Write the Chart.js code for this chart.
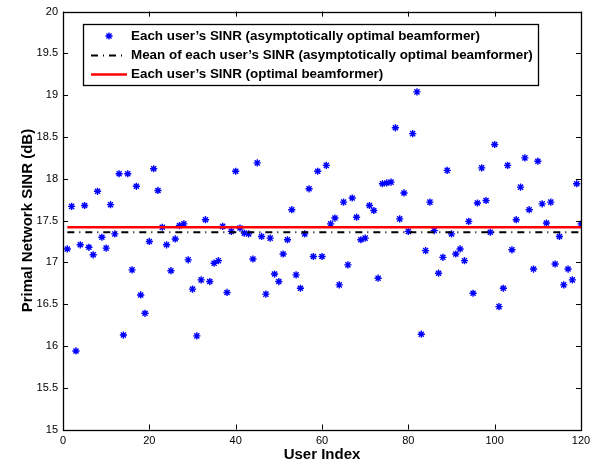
<!DOCTYPE html>
<html>
<head>
<meta charset="utf-8">
<script src="https://cdn.jsdelivr.net/npm/chart.js@4"></script>
<style>
  html, body { margin: 0; padding: 0; background: #fff; }
  canvas { display: block; }
</style>
</head>
<body>
<canvas id="sinrChart" width="607" height="466"></canvas>
<script>
"use strict";

// user index 1..120
const userIndex = Array.from({ length: 120 }, (_, i) => i + 1);

// each user's SINR (dB), asymptotically optimal beamformer
const sinrAsym = [
    17.16, 17.67, 15.94, 17.21, 17.68, 17.18, 17.09, 17.85, 17.30, 17.17,
    17.69, 17.34, 18.06, 16.13, 18.06, 16.91, 17.91, 16.61, 16.39, 17.25,
    18.12, 17.86, 17.42, 17.21, 16.90, 17.28, 17.44, 17.46, 17.03, 16.68,
    16.12, 16.79, 17.51, 16.77, 16.99, 17.02, 17.43, 16.64, 17.37, 18.09,
    17.41, 17.35, 17.34, 17.04, 18.19, 17.31, 16.62, 17.29, 16.86, 16.77,
    17.10, 17.27, 17.63, 16.85, 16.69, 17.34, 17.88, 17.07, 18.09, 17.07,
    18.16, 17.46, 17.53, 16.73, 17.72, 16.97, 17.77, 17.54, 17.27, 17.29,
    17.68, 17.62, 16.81, 17.94, 17.95, 17.96, 18.61, 17.52, 17.83, 17.37,
    18.54, 19.04, 16.14, 17.14, 17.72, 17.38, 16.87, 17.06, 18.10, 17.34,
    17.10, 17.16, 17.02, 17.49, 16.63, 17.71, 18.13, 17.74, 17.36, 18.41,
    16.47, 16.69, 18.16, 17.15, 17.51, 17.90, 18.25, 17.63, 16.92, 18.21,
    17.70, 17.47, 17.72, 16.98, 17.31, 16.73, 16.92, 16.79, 17.94, 17.46
];

// horizontal reference levels (dB)
const meanAsym = 17.36;
const sinrOpt = 17.42;

const xTicks = [0, 20, 40, 60, 80, 100, 120];
const yTicks = [15, 15.5, 16, 16.5, 17, 17.5, 18, 18.5, 19, 19.5, 20];

const legendLabels = [
    "Each user\u2019s SINR (asymptotically optimal beamformer)",
    "Mean of each user\u2019s SINR (asymptotically optimal beamformer)",
    "Each user\u2019s SINR (optimal beamformer)"
];

const FONT = "'Liberation Sans', Arial, Helvetica, sans-serif";
const BLUE = "#0000ff";
const DASH_DOT = [7, 5, 1, 5];
const STAR_R = 3.6;

const first = userIndex[0];
const last = userIndex[userIndex.length - 1];

// box, inward ticks on all four sides and the in-plot legend (MATLAB look)
const matlabFrame = {
    id: "matlabFrame",
    afterDatasetsDraw(chart) {
        const { ctx, chartArea: a, scales } = chart;
        ctx.save();
        ctx.strokeStyle = "#000";
        ctx.lineWidth = 1;
        ctx.beginPath();
        xTicks.forEach((t) => {
            const x = Math.round(scales.x.getPixelForValue(t)) + 0.5;
            ctx.moveTo(x, a.bottom); ctx.lineTo(x, a.bottom - 5);
            ctx.moveTo(x, a.top); ctx.lineTo(x, a.top + 5);
        });
        yTicks.forEach((t) => {
            const y = Math.round(scales.y.getPixelForValue(t)) + 0.5;
            ctx.moveTo(a.left, y); ctx.lineTo(a.left + 5, y);
            ctx.moveTo(a.right, y); ctx.lineTo(a.right - 5, y);
        });
        ctx.stroke();
        ctx.lineWidth = 1.3;
        ctx.strokeRect(Math.round(a.left) + 0.5, Math.round(a.top) + 0.5,
            Math.round(a.right - a.left), Math.round(a.bottom - a.top));

        // legend
        const lx = 83, ly = 24, lw = 455, lh = 61;
        ctx.fillStyle = "#fff";
        ctx.fillRect(lx, ly, lw, lh);
        ctx.lineWidth = 1.3;
        ctx.strokeRect(lx + 0.5, ly + 0.5, lw, lh);

        const rows = [36, 55.5, 74.5];
        const ds = chart.data.datasets;
        // row 1: star marker
        ctx.strokeStyle = BLUE;
        ctx.lineWidth = 1.4;
        const sx = 109, sy = rows[0], r = STAR_R;
        ctx.beginPath();
        ctx.moveTo(sx - r, sy); ctx.lineTo(sx + r, sy);
        ctx.moveTo(sx, sy - r); ctx.lineTo(sx, sy + r);
        const d = r * Math.SQRT1_2;
        ctx.moveTo(sx - d, sy - d); ctx.lineTo(sx + d, sy + d);
        ctx.moveTo(sx - d, sy + d); ctx.lineTo(sx + d, sy - d);
        ctx.stroke();
        // row 2: dash-dot line
        ctx.strokeStyle = ds[1].borderColor;
        ctx.lineWidth = ds[1].borderWidth;
        ctx.setLineDash(DASH_DOT);
        ctx.beginPath();
        ctx.moveTo(91, rows[1]); ctx.lineTo(127, rows[1]);
        ctx.stroke();
        ctx.setLineDash([]);
        // row 3: red line
        ctx.strokeStyle = ds[2].borderColor;
        ctx.lineWidth = ds[2].borderWidth;
        ctx.beginPath();
        ctx.moveTo(91, rows[2]); ctx.lineTo(127, rows[2]);
        ctx.stroke();

        ctx.fillStyle = "#000";
        ctx.font = "bold 13.4px " + FONT;
        ctx.textBaseline = "middle";
        ctx.textAlign = "left";
        legendLabels.forEach((t, i) => ctx.fillText(t, 131, rows[i]));
        ctx.restore();
    }
};

new Chart(document.getElementById("sinrChart").getContext("2d"), {
    type: "scatter",
    data: {
        datasets: [
            {
                label: legendLabels[0],
                data: userIndex.map((u, i) => ({ x: u, y: sinrAsym[i] })),
                pointStyle: "star",
                pointRadius: STAR_R,
                borderColor: BLUE,
                backgroundColor: BLUE,
                pointBorderWidth: 1.4,
                showLine: false,
                order: 3
            },
            {
                label: legendLabels[1],
                type: "line",
                data: [{ x: first, y: meanAsym }, { x: last, y: meanAsym }],
                borderColor: "#000",
                borderWidth: 2,
                borderDash: DASH_DOT,
                pointRadius: 0,
                order: 2
            },
            {
                label: legendLabels[2],
                type: "line",
                data: [{ x: first, y: sinrOpt }, { x: last, y: sinrOpt }],
                borderColor: "#ff0000",
                borderWidth: 2.5,
                pointRadius: 0,
                order: 1
            }
        ]
    },
    options: {
        responsive: false,
        animation: false,
        events: [],
        layout: { padding: { left: 0, right: 26, top: 10, bottom: 0 } },
        plugins: { legend: { display: false }, tooltip: { enabled: false } },
        scales: {
            x: {
                type: "linear",
                min: 0,
                max: 120,
                afterBuildTicks: (s) => { s.ticks = xTicks.map((v) => ({ value: v })); },
                afterFit: (s) => { s.height = 36.5; },
                grid: { display: false, drawTicks: false },
                border: { display: false },
                ticks: { color: "#000", padding: 5, font: { family: FONT, size: 11 }, maxRotation: 0 },
                title: {
                    display: true,
                    text: "User Index",
                    color: "#000",
                    font: { family: FONT, size: 15, weight: "bold" },
                    padding: { top: 0, bottom: 2 }
                }
            },
            y: {
                min: 15,
                max: 20,
                afterBuildTicks: (s) => { s.ticks = yTicks.map((v) => ({ value: v })); },
                afterFit: (s) => { s.width = 63; },
                grid: { display: false, drawTicks: false },
                border: { display: false },
                ticks: {
                    color: "#000",
                    padding: 5,
                    font: { family: FONT, size: 11 },
                    callback: (v) => String(v)
                },
                title: {
                    display: true,
                    text: "Primal Network SINR (dB)",
                    color: "#000",
                    font: { family: FONT, size: 15, weight: "bold" },
                    padding: { top: 19, bottom: 0 }
                }
            }
        }
    },
    plugins: [matlabFrame]
});
</script>
</body>
</html>
